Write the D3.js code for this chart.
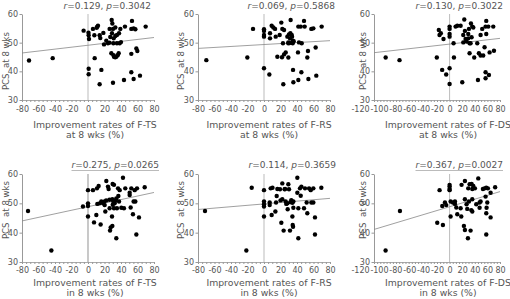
<!DOCTYPE html>
<html>
<head>
<meta charset="utf-8">
<script src="https://cdn.jsdelivr.net/npm/d3@7"></script>
<style>
    body { margin: 0; background: #fff; }
    svg text { font-family: "DejaVu Sans", Verdana, sans-serif; fill: #555; }
</style>
</head>
<body>
<div id="graph"></div>
<script>
'use strict';

// points: [improvement rate (%), PCS]
const ftsAt8 = [[-71.5,43.8],[-42.8,44.6],[-5.3,54.2],[0.8,52.6],[1.2,51.3],[0.8,40.9],[0.8,39.0],[8.1,44.6],[6.0,54.8],[10.5,55.2],[12.1,55.9],[7.7,52.6],[14.1,52.6],[14.9,51.6],[16.2,40.5],[14.1,35.5],[18.6,53.4],[19.4,49.4],[22.2,50.7],[24.2,49.8],[26.2,54.8],[28.7,57.9],[29.5,56.7],[30.3,54.8],[29.1,53.3],[31.1,51.5],[33.1,52.3],[30.7,49.8],[35.1,49.8],[38.4,49.8],[35.1,52.7],[37.6,53.3],[39.2,54.8],[33.1,55.3],[28.3,46.3],[31.5,45.1],[34.3,45.1],[37.2,46.3],[30.3,36.0],[43.6,37.0],[44.8,55.6],[52.5,46.1],[53.3,57.6],[52.5,54.8],[55.3,55.0],[57.4,54.7],[58.6,48.0],[59.8,47.1],[52.5,39.7],[55.3,37.3],[63.0,38.5],[69.9,55.6],[31,45.6],[33,44.9],[36,45.6],[26,50.0],[40,50.2],[0.6,53.5],[11,55.5],[27,52.0]];
const frsAt8 = [[-69.9,43.9],[-20.2,44.8],[-13.3,54.8],[0,54.7],[0,54.1],[0,52.7],[0,52.1],[0,41.1],[6.5,38.9],[7.3,53.3],[7.3,51.5],[9.3,55.9],[11.3,55.3],[13.4,54.8],[14.2,52.1],[16.2,45.1],[19.0,52.7],[21.0,57.0],[22.2,54.8],[24.3,54.4],[23.0,49.8],[21.8,44.9],[24.3,45.9],[26.3,46.6],[23.4,35.5],[28.3,52.1],[29.5,50.1],[30.3,52.9],[31.5,51.5],[33.6,52.7],[34.8,50.7],[29.5,49.8],[32.3,57.9],[34.8,49.8],[29.5,44.8],[35.2,40.5],[35.6,36.2],[41.6,55.6],[44.5,55.6],[48.5,57.6],[49.3,55.6],[41.6,37.0],[41.2,46.6],[45.3,39.7],[42.4,50.1],[45.7,49.8],[53.3,47.1],[52.5,44.8],[53.8,37.3],[57.4,54.8],[59.8,55.0],[62.6,48.3],[63.4,38.5],[69.9,55.6],[32,53.3],[34,52.1],[36,50.5],[31,49.9]];
const fdsAt8 = [[-101.5,44.8],[-79.5,43.9],[-20.3,44.8],[-17.1,54.4],[-13.9,53.3],[-16.0,52.7],[-9.7,51.3],[-11.8,40.5],[-5.4,38.9],[0,55.6],[0,54.8],[0,53.0],[0,52.1],[0,41.1],[0,35.6],[6.3,49.8],[6.9,44.8],[9.5,55.6],[12.2,55.9],[17.5,55.9],[20.1,36.2],[21.7,52.7],[23.3,58.1],[24.3,54.1],[21.7,50.1],[25.4,51.3],[27.0,50.4],[29.6,53.0],[30.7,54.8],[31.7,49.8],[29.6,51.5],[33.9,56.7],[36.0,55.6],[37.6,55.3],[34.9,51.9],[33.3,49.8],[31.7,46.3],[39.1,44.8],[45.0,37.0],[43.9,49.8],[46.5,46.3],[49.2,52.7],[49.2,45.5],[51.8,54.8],[57.1,55.6],[58.2,57.6],[58.2,53.0],[55.5,48.4],[53.4,45.5],[57.1,39.7],[57.1,37.6],[62.4,38.7],[63.5,46.6],[61.4,55.6],[69.3,55.6],[70.4,47.2]];
const ftsIn8 = [[-72.7,47.4],[-44.4,33.9],[-6.1,48.9],[0,54.5],[0,50.0],[0,49.1],[0,45.5],[6.0,54.5],[7.3,43.5],[10.1,46.0],[10.9,55.1],[12.9,55.9],[11.3,49.8],[14.1,50.0],[15.3,42.8],[16.1,50.6],[18.2,50.0],[20.2,49.4],[21.0,47.2],[22.2,57.6],[24.2,55.7],[25.0,54.9],[26.2,48.3],[26.7,40.7],[27.5,41.8],[29.1,45.5],[29.5,42.3],[29.9,56.6],[31.5,56.3],[29.5,51.4],[30.7,50.6],[32.3,50.0],[33.5,50.9],[34.3,38.1],[31.5,48.3],[35.1,48.3],[36.4,55.1],[38.4,54.5],[36.8,52.5],[34.3,51.7],[37.6,50.6],[42.4,58.7],[40.4,48.5],[43.6,48.3],[45.2,55.1],[50.5,52.8],[50.5,53.6],[51.7,48.6],[52.5,55.1],[54.5,46.3],[55.3,50.6],[57.4,50.6],[58.6,39.4],[59.4,55.1],[61.8,45.2],[56.6,54.5],[68.7,55.5],[22,51.0],[20,50.6],[26,51.2],[30,49.5]];
const frsIn8 = [[-71.5,47.4],[-21.4,33.9],[-14.9,55.3],[0,54.5],[0,50.6],[0,49.7],[0,48.9],[0,45.5],[6.9,50.3],[6.9,49.4],[8.1,55.1],[9.3,46.0],[10.3,55.3],[13.8,47.2],[14.6,50.3],[15.4,52.5],[16.2,54.9],[19.4,54.8],[21.0,43.4],[22.2,56.8],[22.2,51.4],[23.8,40.7],[25.5,54.9],[26.3,50.6],[28.3,50.0],[28.7,48.0],[29.5,56.5],[30.3,54.8],[31.5,40.7],[33.1,51.1],[34.4,50.2],[34.4,45.5],[34.8,42.6],[35.2,42.0],[35.6,50.6],[35.6,48.5],[40.4,58.7],[41.6,38.1],[41.6,48.3],[40.4,53.6],[43.6,55.1],[44.5,52.6],[45.3,55.7],[48.5,48.3],[49.7,55.1],[51.7,50.3],[52.5,46.6],[54.6,55.1],[56.6,54.5],[57.4,50.3],[59.8,50.3],[59.8,55.1],[61.8,45.2],[61.8,39.4],[69.5,55.3],[25,54.8],[27,49.8],[20,51.0],[32,50.4]];
const fdsIn8 = [[-101.6,33.9],[-78.8,47.4],[-19.6,43.4],[-15.9,54.5],[-11.6,49.1],[-10.6,42.6],[-7.4,50.3],[-5.3,49.4],[0,56.3],[0,55.7],[0,54.9],[0,54.5],[1.6,50.6],[1.6,45.5],[5.3,50.3],[8.5,50.6],[8.5,49.8],[10.6,48.6],[12.2,46.3],[17.5,48.3],[18.5,45.5],[19.0,56.3],[22.7,42.3],[24.3,57.6],[24.3,51.4],[24.3,40.9],[26.9,49.7],[28.0,48.1],[29.1,38.1],[29.6,55.1],[30.7,50.6],[31.7,56.5],[33.3,40.7],[34.4,47.7],[34.9,56.6],[36.0,54.9],[36.0,51.4],[36.0,47.2],[37.6,55.9],[40.2,55.1],[42.3,49.7],[47.6,48.5],[47.6,50.3],[45.5,58.5],[49.2,50.6],[52.9,54.9],[55.5,55.1],[57.1,52.3],[58.2,55.3],[58.2,46.6],[58.2,39.4],[59.8,50.3],[58.7,48.5],[60.8,55.1],[65.1,45.2],[65.1,53.6],[72.3,55.5]];

// regression line, PCS at the left and right end of the x domain
const fitLeft = [46.4, 48.0, 46.5, 44.0, 47.9, 41.1];
const fitRight = [51.8, 50.7, 51.5, 53.7, 51.7, 54.0];

const rValues = ['0.129', '0.069', '0.130', '0.275', '0.114', '0.367'];
const pValues = ['0.3042', '0.5868', '0.3022', '0.0265', '0.3659', '0.0027'];
const scaleNames = ['F-TS', 'F-RS', 'F-DS'];
const periodNames = ['at 8 wks (%)', 'in 8 wks (%)'];

const yTicks = [30, 40, 50, 60];
const xTicksNarrow = [-80, -60, -40, -20, 0, 20, 40, 60, 80];
const xTicksWide = [-120, -100, -80, -60, -40, -20, 0, 20, 40, 60, 80];

let w = 510, h = 299;
let svg = d3.select('#graph').append('svg').attr('width', w).attr('height', h);

// layout of the 3x2 grid
let cols = [
    { left: 22, right: 154, mid: 95, yLab: 8.5, ticks: xTicksNarrow },
    { left: 198, right: 330, mid: 269, yLab: 183.5, ticks: xTicksNarrow },
    { left: 374, right: 500, mid: 448, yLab: 366, ticks: xTicksWide }
];
let rows = [
    { top: 14, bottom: 100, title: 8.5, yLabMid: 61, tickPad: 6, lab1: 127.5, lab2: 137.5 },
    { top: 174, bottom: 262, title: 168, yLabMid: 210, tickPad: 5, lab1: 285.5, lab2: 295.5 }
];
let titleEnds = [151, 335, 503, 159, 336, 503];
let datasets = [ftsAt8, frsAt8, fdsAt8, ftsIn8, frsIn8, fdsIn8];

function drawPanel(i) {
    let col = cols[i % 3], row = rows[Math.floor(i / 3)];
    let xDomain = [col.ticks[0], col.ticks[col.ticks.length - 1]];
    let x = d3.scaleLinear().domain(xDomain).range([col.left, col.right]);
    let y = d3.scaleLinear().domain([30, 60]).range([row.bottom, row.top]);
    let g = svg.append('g');

    // x axis: light line with small minor ticks, labels separate
    g.append('g')
        .attr('transform', `translate(0,${row.bottom})`)
        .call(d3.axisBottom(x).tickValues(d3.range(xDomain[0], xDomain[1] + 1, 5)).tickSize(2).tickSizeOuter(0).tickFormat(''))
        .call(a => a.select('.domain').attr('stroke', '#aaa'))
        .call(a => a.selectAll('.tick line').attr('stroke', '#999'));

    let xLab = g.append('g')
        .attr('transform', `translate(0,${row.bottom})`)
        .call(d3.axisBottom(x).tickValues(col.ticks).tickSize(0).tickPadding(row.tickPad).tickFormat(d => String(d)));
    xLab.select('.domain').remove();
    xLab.selectAll('text').attr('font-size', 8).attr('font-family', null).attr('fill', null);

    // crowded labels: push the negative ones left so they do not overlap
    let labels = xLab.selectAll('.tick text').nodes();
    let zeroIdx = col.ticks.indexOf(0);
    for (let k = zeroIdx - 1; k >= 0; --k) {
        let cur = labels[k], next = labels[k + 1];
        let curBox = cur.getBBox(), nextBox = next.getBBox();
        let curShift = +cur.getAttribute('x') || 0;
        let nextShift = +next.getAttribute('x') || 0;
        let nextLeft = x(col.ticks[k + 1]) + nextShift - nextBox.width / 2;
        let curRight = x(col.ticks[k]) + curShift + curBox.width / 2;
        if (curRight > nextLeft - 0.8) {
            d3.select(cur).attr('x', curShift - (curRight - nextLeft + 0.8));
        }
    }

    // y axis
    let yAx = g.append('g')
        .attr('transform', `translate(${col.left},0)`)
        .call(d3.axisLeft(y).tickValues(yTicks).tickSize(2.5).tickPadding(1.5).tickSizeOuter(0));
    yAx.select('.domain').attr('stroke', '#999');
    yAx.selectAll('.tick line').attr('stroke', '#999');
    yAx.selectAll('text').attr('font-size', 8).attr('font-family', null).attr('fill', null);

    // vertical reference line at 0
    g.append('line')
        .attr('x1', x(0)).attr('x2', x(0))
        .attr('y1', y(60)).attr('y2', y(30))
        .attr('stroke', i === 3 ? '#bbb' : '#aaa')
        .attr('stroke-width', i === 3 ? 1.6 : 0.8);

    // regression line
    g.append('line')
        .attr('x1', x(xDomain[0])).attr('y1', y(fitLeft[i]))
        .attr('x2', x(xDomain[1])).attr('y2', y(fitRight[i]))
        .attr('stroke', '#888').attr('stroke-width', 0.8);

    g.selectAll('.dot').data(datasets[i]).enter().append('circle')
        .attr('class', 'dot')
        .attr('cx', d => x(d[0]))
        .attr('cy', d => y(d[1]))
        .attr('r', 2.2)
        .attr('fill', '#000');

    // r / p title, underlined where p < 0.05
    let title = g.append('text')
        .attr('x', titleEnds[i]).attr('y', row.title)
        .attr('text-anchor', 'end').attr('font-size', 9);
    title.append('tspan').attr('font-style', 'italic').text('r');
    title.append('tspan').text(`=${rValues[i]}, `);
    title.append('tspan').attr('font-style', 'italic').text('p');
    title.append('tspan').text(`=${pValues[i]}`);
    if (+pValues[i] < 0.05) {
        let tw = title.node().getComputedTextLength();
        g.append('line')
            .attr('x1', titleEnds[i] - tw).attr('x2', titleEnds[i])
            .attr('y1', row.title + 2.5).attr('y2', row.title + 2.5)
            .attr('stroke', '#bbb').attr('stroke-width', 1.2);
    }

    // axis titles
    g.append('text')
        .attr('x', col.mid).attr('y', row.lab1)
        .attr('text-anchor', 'middle').attr('font-size', 9.3)
        .text(`Improvement rates of ${scaleNames[i % 3]}`);
    g.append('text')
        .attr('x', col.mid).attr('y', row.lab2)
        .attr('text-anchor', 'middle').attr('font-size', 9.3)
        .text(periodNames[Math.floor(i / 3)]);

    g.append('text')
        .attr('transform', `translate(${col.yLab},${row.yLabMid}) rotate(-90)`)
        .attr('text-anchor', 'middle').attr('font-size', 8.6)
        .style('white-space', 'pre')
        .text('PCS  at 8 wks');
}

for (let i = 0; i < 6; ++i) {
    drawPanel(i);
}
</script>
</body>
</html>
